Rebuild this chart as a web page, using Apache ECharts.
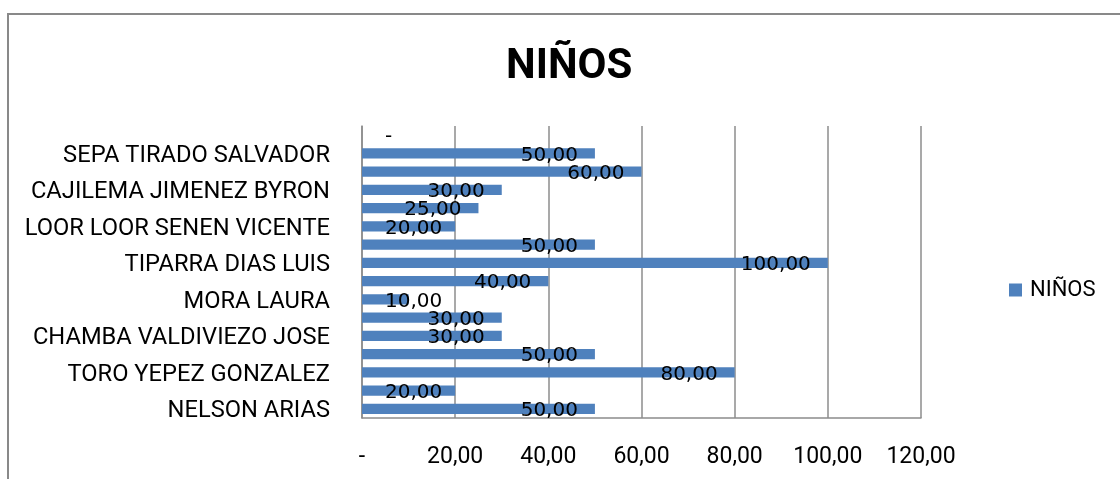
<!DOCTYPE html>
<html>
<head>
<meta charset="utf-8">
<script src="https://cdn.jsdelivr.net/npm/echarts@6/dist/echarts.min.js"></script>
<style>
  html, body { margin: 0; padding: 0; background: #fff; }
  #chart { width: 1120px; height: 479px; }
</style>
</head>
<body>
<div id="chart"></div>
<script>
// Rows from bottom to top; only every other row carries a visible name.
const categories = [
  'NELSON ARIAS', '',
  'TORO YEPEZ GONZALEZ', '',
  'CHAMBA VALDIVIEZO JOSE', '',
  'MORA LAURA', '',
  'TIPARRA DIAS LUIS', '',
  'LOOR LOOR SENEN VICENTE', '',
  'CAJILEMA JIMENEZ BYRON', '',
  'SEPA TIRADO SALVADOR', ''
];
const ninos = [50, 20, 80, 50, 30, 30, 10, 40, 100, 50, 20, 25, 30, 60, 50, 0];
const seriesName = 'NIÑOS';

// Spanish-style number format; zero shown as a dash.
const fmt = v => (v === 0 ? '-' : v.toFixed(2).replace('.', ','));

const GRID = '#8c8c8c';

// Short bars get their label pushed to the left edge of the plot.
const barData = ninos.map(v =>
  v >= 25 ? v : { value: v, label: { position: 'insideLeft', distance: 23 } }
);

const chart = echarts.init(document.getElementById('chart'), null, { renderer: 'canvas' });
chart.setOption({
  animation: false,
  backgroundColor: '#fff',
  graphic: [{
    type: 'rect',
    silent: true,
    shape: { x: 8, y: 14, width: 1200, height: 600 },
    style: { fill: 'none', stroke: '#898989', lineWidth: 2 }
  }],
  title: {
    text: 'NIÑOS',
    left: 501,
    top: 41,
    textStyle: { fontFamily: 'Roboto', fontWeight: 'bold', fontSize: 42, color: '#000' }
  },
  legend: {
    left: 1004,
    top: 274,
    orient: 'vertical',
    icon: 'rect',
    itemWidth: 13,
    itemHeight: 13,
    data: [seriesName],
    textStyle: { fontFamily: 'Roboto', fontSize: 22, color: '#000', padding: [0, 0, 0, 3] }
  },
  grid: { left: 362, right: 199, top: 126, bottom: 61, containLabel: false },
  xAxis: {
    type: 'value',
    min: 0,
    max: 120,
    interval: 20,
    axisLine: { show: true, lineStyle: { color: GRID, width: 1.5 } },
    axisTick: { show: false },
    splitLine: { show: true, lineStyle: { color: GRID, width: 1.5 } },
    axisLabel: {
      margin: 28,
      formatter: fmt,
      fontFamily: 'Roboto',
      fontSize: 23,
      color: '#000'
    }
  },
  yAxis: {
    type: 'category',
    data: categories,
    axisLine: { show: true, lineStyle: { color: GRID, width: 1.5 } },
    axisTick: { show: false },
    axisLabel: {
      interval: 0,
      margin: 32,
      formatter: name => (name ? '{n|' + name + '}' : ''),
      rich: {
        n: {
          fontFamily: 'Roboto',
          fontSize: 23.7,
          color: '#000',
          padding: [5, 0, 0, 0]
        }
      }
    }
  },
  series: [{
    name: seriesName,
    type: 'bar',
    data: barData,
    barWidth: '55%',
    itemStyle: { color: '#4F81BD' },
    label: {
      show: true,
      position: 'insideRight',
      distance: 17,
      offset: [0, 2],
      formatter: p => fmt(p.value),
      fontFamily: 'DejaVu Sans',
      fontSize: 20,
      color: '#000'
    }
  }]
});
</script>
</body>
</html>
